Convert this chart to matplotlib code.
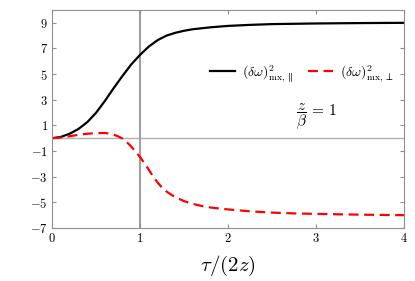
import numpy as np
import matplotlib
matplotlib.use("Agg")
import matplotlib.pyplot as plt
import matplotlib.ticker as mticker

plt.rcParams['mathtext.fontset'] = 'cm'
plt.rcParams['font.family'] = 'serif'
plt.rcParams['font.serif'] = ['DejaVu Serif']

# values
tau_par = [0, 0.1, 0.2, 0.3, 0.4, 0.5, 0.6, 0.7, 0.8, 0.9, 1.0, 1.1, 1.2,
           1.3, 1.4, 1.5, 1.6, 1.8, 2.0, 2.25, 2.5, 3.0, 3.5, 4.0]
dw_par = [0, 0.1, 0.35, 0.72, 1.25, 1.98, 2.9, 3.9, 4.85, 5.75, 6.5, 7.15,
          7.65, 8.0, 8.22, 8.38, 8.5, 8.65, 8.76, 8.84, 8.9, 8.95, 8.98, 9.0]

tau_perp = [0, 0.1, 0.2, 0.3, 0.4, 0.5, 0.6, 0.65, 0.7, 0.75, 0.8, 0.85,
            0.9, 0.95, 1.0, 1.05, 1.1, 1.15, 1.2, 1.25, 1.3, 1.4, 1.5, 1.6,
            1.7, 1.8, 1.9, 2.0, 2.25, 2.5, 2.75, 3.0, 3.5, 4.0]
dw_perp = [0, 0.06, 0.16, 0.26, 0.35, 0.4, 0.41, 0.37, 0.28, 0.15, -0.02,
           -0.3, -0.65, -1.05, -1.46, -1.95, -2.45, -3.0, -3.45, -3.85,
           -4.15, -4.6, -4.9, -5.12, -5.28, -5.4, -5.48, -5.55, -5.7, -5.8,
           -5.86, -5.9, -5.96, -6.0]

xticks = [0, 1, 2, 3, 4]
yticks = [-7, -5, -3, -1, 1, 3, 5, 7, 9]

fig = plt.figure(figsize=(4.15, 2.81), dpi=100)
ax = fig.add_axes([0.1253, 0.1886, 0.8482, 0.7758])

ax.axhline(0, color='#b0b0b0', lw=1.0, zorder=1)
ax.axvline(1, color='#a0a0a0', lw=1.5, zorder=1)

ax.plot(tau_par, dw_par, color='black', lw=1.6,
        label=r'$(\delta\omega)^2_{\mathrm{mx},\parallel}$')
ax.plot(tau_perp, dw_perp, color='red', lw=1.6, ls=(0, (4.5, 2.5)),
        label=r'$(\delta\omega)^2_{\mathrm{mx},\perp}$')

ax.set_xlim(0, 4)
ax.set_ylim(-7, 10)
ax.xaxis.set_major_locator(mticker.FixedLocator(xticks))
ax.yaxis.set_major_locator(mticker.FixedLocator(yticks))
ax.set_xticklabels([r'$%d$' % v for v in xticks])
ax.set_yticklabels([r'$%d$' % v for v in yticks])
ax.tick_params(direction='in', top=True, right=True, length=3,
               color='#909090', labelsize=9, pad=3)
for s in ax.spines.values():
    s.set_color('#909090')

ax.set_xlabel(r'$\tau/(2z)$', fontsize=15, labelpad=6)

ax.legend(loc='center', bbox_to_anchor=(0.71, 0.71), ncol=2, frameon=False,
          fontsize=10, handlelength=1.8, columnspacing=1.1, handletextpad=0.5)

ax.text(0.75, 0.51, r'$\dfrac{z}{\beta}\,=\,1$', transform=ax.transAxes,
        ha='center', va='center', fontsize=11)

fig.savefig('out.png', dpi=100)
